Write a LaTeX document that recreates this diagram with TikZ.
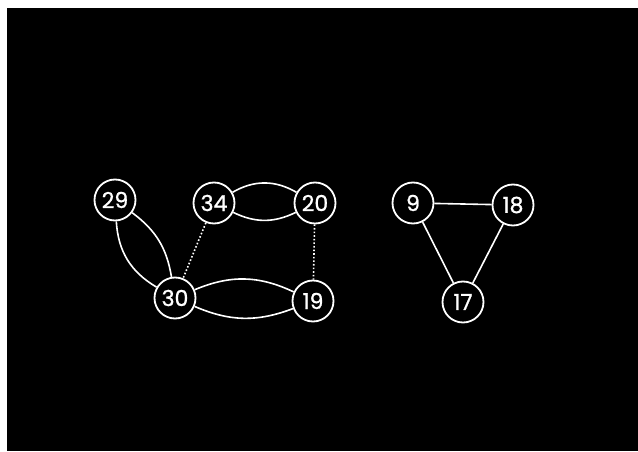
\documentclass[tikz,border=0pt]{standalone}
\usepackage{fontspec}
\setmainfont{Poppins}
\newfontfamily\numfont{Poppins}[FakeBold=1]

\begin{document}
\begin{tikzpicture}[x=1pt,y=1pt,line width=1.8pt,
  vert/.style={circle,draw=white,fill=black,minimum size=41pt,inner sep=0pt,
    text=white,font=\numfont\fontsize{22}{23}\selectfont},
  link/.style={draw=white,line width=1.6pt},
  weak/.style={draw=white,line width=1.6pt,dotted}]
% 背景
\useasboundingbox (0,0) rectangle (638,451);
\fill[black] (7,0) rectangle (638,443);
% 顶点
\node[vert] (v29) at (115,251) {29};
\node[vert] (v34) at (214,248) {34};
\node[vert] (v20) at (315,248) {20};
\node[vert] (v30) at (175,153) {30};
\node[vert] (v19) at (313,150) {19};
\node[vert] (v9)  at (413,248) {9};
\node[vert] (v18) at (513,246) {18};
\node[vert] (v17) at (463,149) {17};
% 左边的分量（双边）
\draw[link] (v29) to[bend right=28] (v30);
\draw[link] (v29) to[bend left=22] (v30);
\draw[link] (v34) to[bend left=30] (v20);
\draw[link] (v34) to[bend right=26] (v20);
\draw[link] (v30) to[bend left=24] (v19);
\draw[link] (v30) to[bend right=22] (v19);
% 虚线连接
\draw[weak] (v34) -- (v30);
\draw[weak] (v20) -- (v19);
% 右边的三角形
\draw[link] (v9) -- (v18);
\draw[link] (v9) -- (v17);
\draw[link] (v18) -- (v17);
\end{tikzpicture}
\end{document}
